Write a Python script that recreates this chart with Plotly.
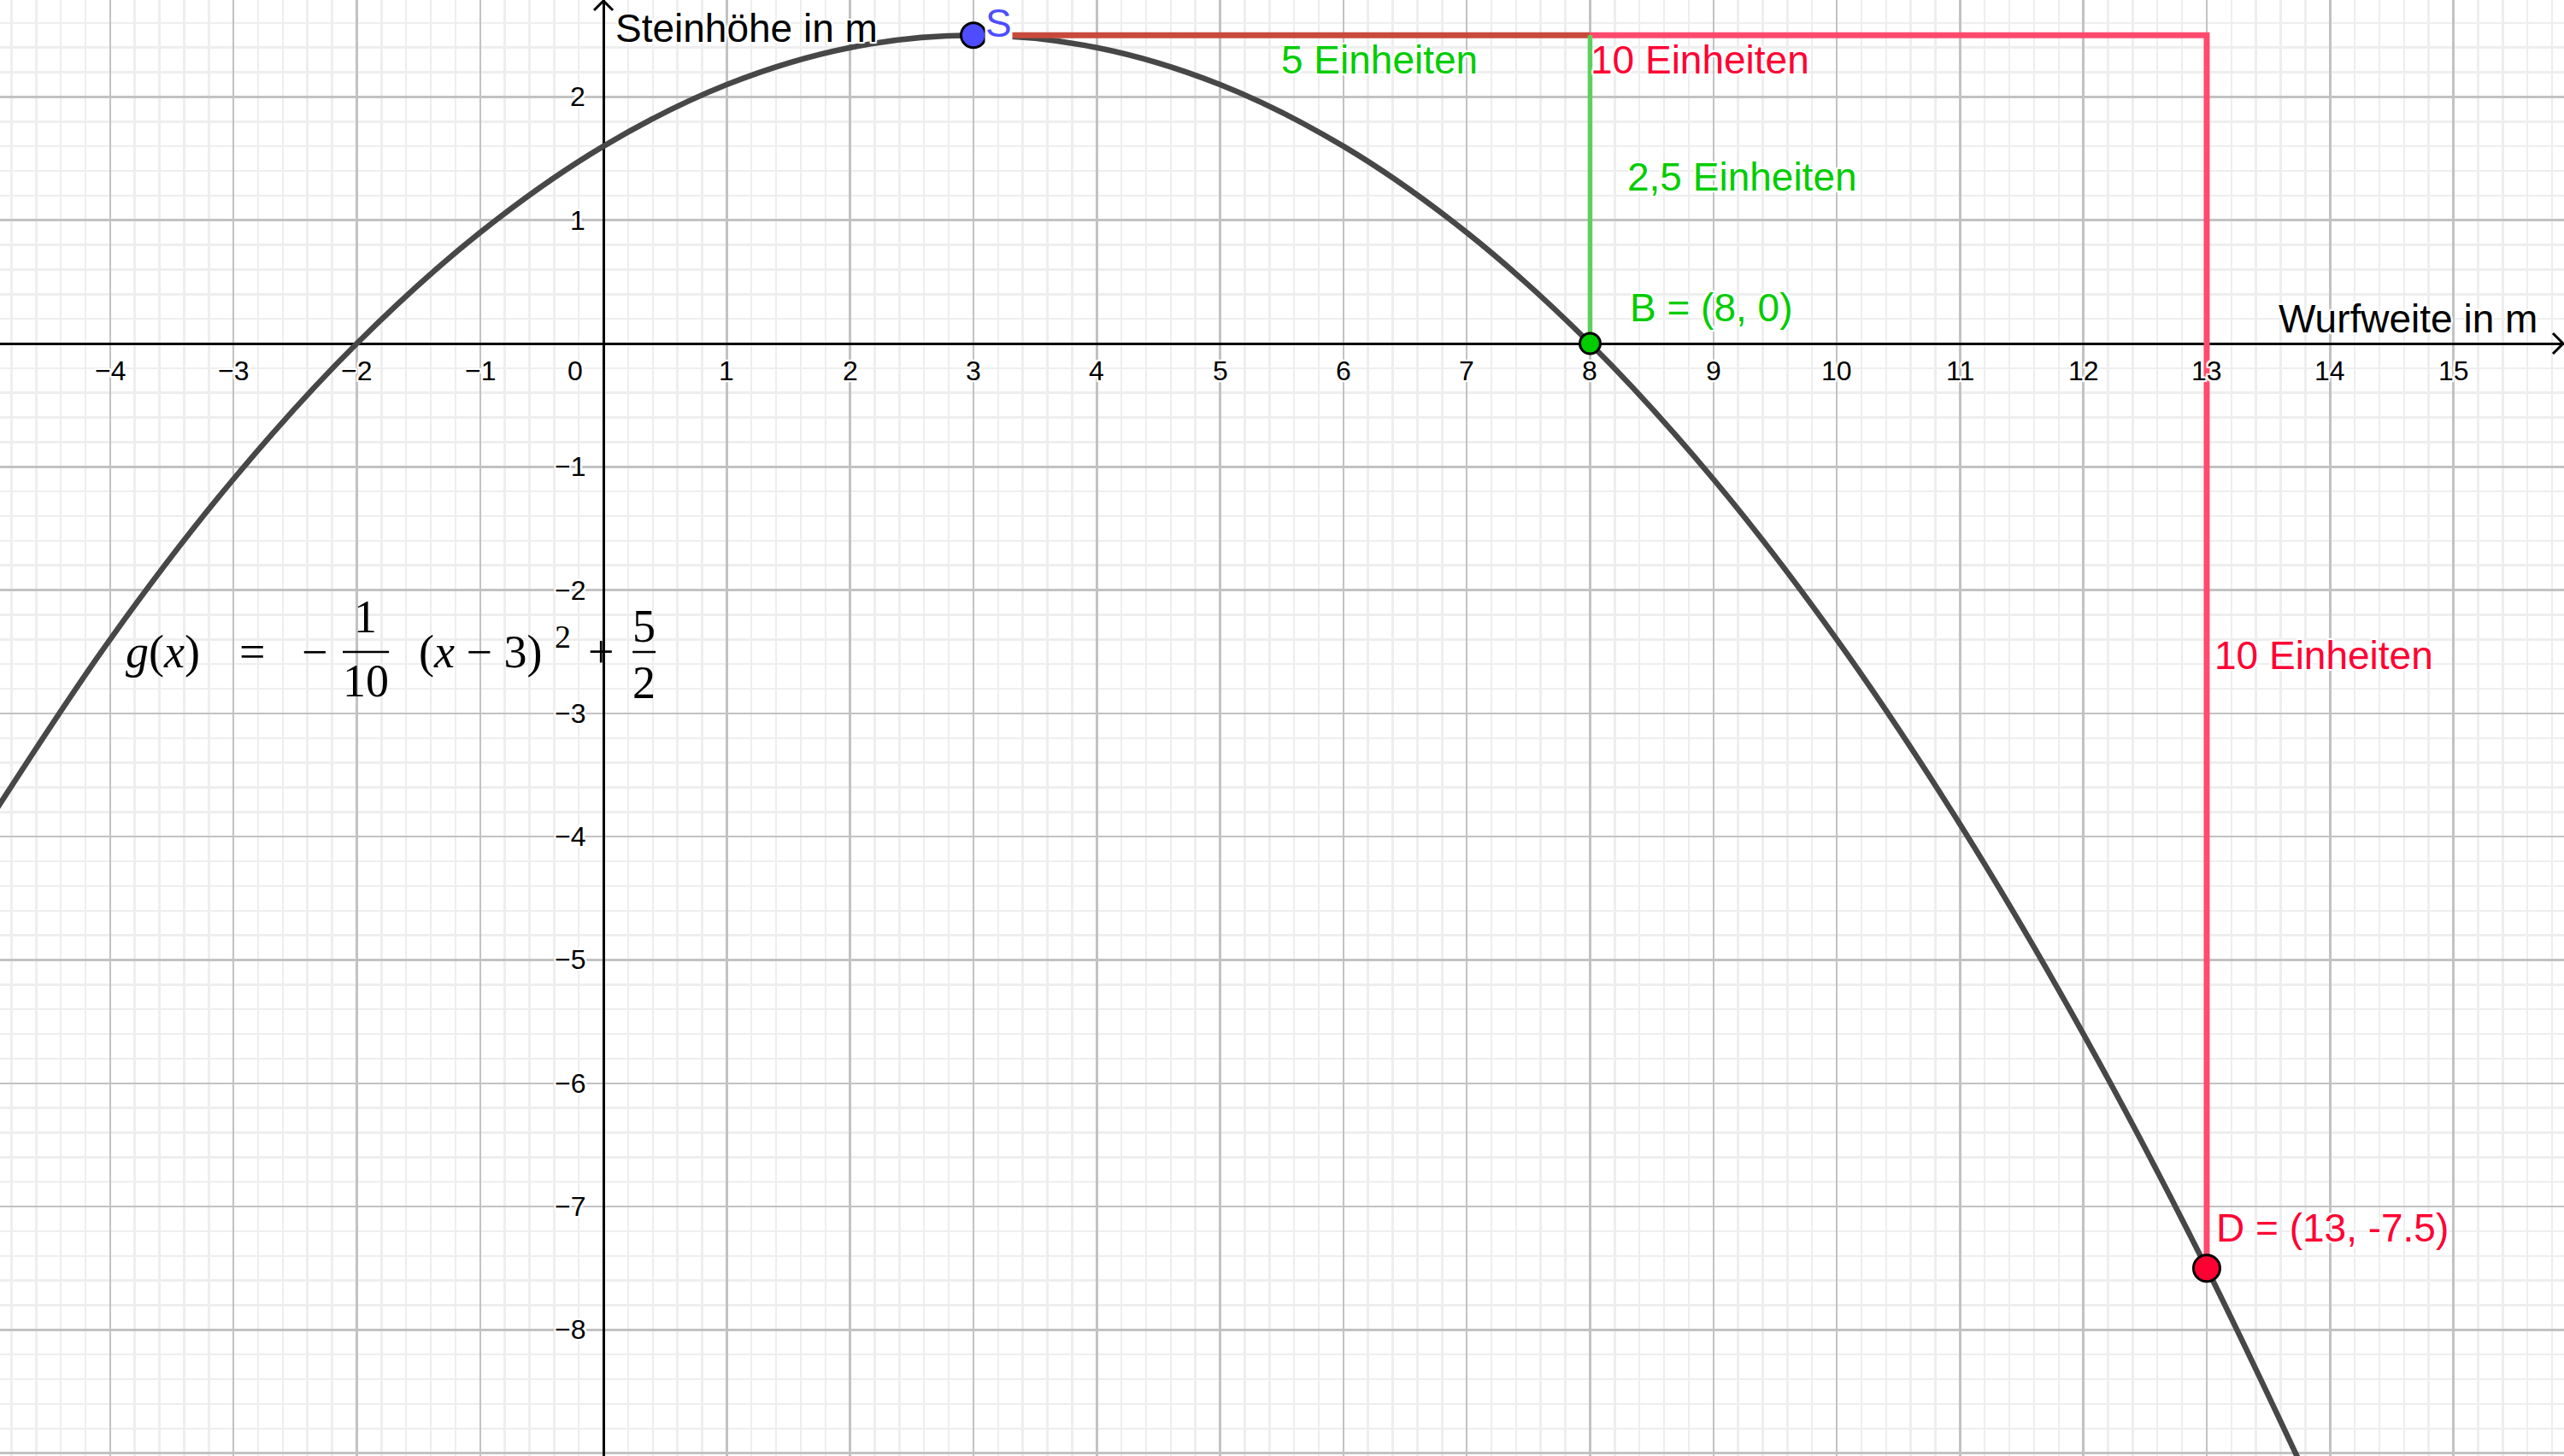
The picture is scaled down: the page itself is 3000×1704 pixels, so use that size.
import plotly.graph_objects as go

# ---------------- data ----------------
# parabola g(x) = -1/10 (x-3)^2 + 5/2, values read at integer x
curve_x = [-5, -4, -3, -2, -1, 0, 1, 2, 3, 4, 5, 6, 7, 8, 9, 10, 11, 12, 13, 14]
curve_y = [-3.9, -2.4, -1.1, 0.0, 0.9, 1.6, 2.1, 2.4, 2.5, 2.4, 2.1, 1.6, 0.9, 0.0,
           -1.1, -2.4, -3.9, -5.6, -7.5, -9.6]

point_names = ["S", "B", "D"]
point_x = [3, 8, 13]
point_y = [2.5, 0, -7.5]

corner_x = [8, 13]        # helper corners at apex height
corner_y = [2.5, 2.5]

x_ticks = [-4, -3, -2, -1, 1, 2, 3, 4, 5, 6, 7, 8, 9, 10, 11, 12, 13, 14, 15]
y_ticks = [2, 1, -1, -2, -3, -4, -5, -6, -7, -8]

x_range = [-4.893, 15.897]
y_range = [-9.023, 2.786]

# ---------------- styles ----------------
SANS = "Liberation Sans, Arial, sans-serif"
SERIF = "Liberation Serif, Times New Roman, serif"
HALO = ("white 2px 0px 1px, white -2px 0px 1px, white 0px 2px 1px, white 0px -2px 1px, "
        "white 2px 2px 1px, white -2px -2px 1px, white 2px -2px 1px, white -2px 2px 1px")
GREEN = "#00cc00"
GREEN_LINE = "#5ccf5c"
RED = "#ff0033"
RED_LINE = "#ff4a6e"
BROWN = "#c84a3c"
BLUE = "#4d4dff"
CURVE = "#474747"


def fmt(v):
    return ("\u2212" + str(-v)) if v < 0 else str(v)


fig = go.Figure()

# curve
fig.add_trace(go.Scatter(x=curve_x, y=curve_y, mode="lines",
                         line=dict(color=CURVE, width=6.5, shape="spline", smoothing=1.0),
                         hoverinfo="skip"))

S = (point_x[0], point_y[0])
B = (point_x[1], point_y[1])
D = (point_x[2], point_y[2])
C1 = (corner_x[0], corner_y[0])
C2 = (corner_x[1], corner_y[1])

# segment S -> (8, 2.5)  (green over red => brown)
fig.add_trace(go.Scatter(x=[S[0], C1[0]], y=[S[1], C1[1]], mode="lines",
                         line=dict(color=BROWN, width=7), hoverinfo="skip"))
# red horizontal (8,2.5)->(13,2.5) and vertical down to D
fig.add_trace(go.Scatter(x=[C1[0], C2[0], D[0]], y=[C1[1], C2[1], D[1]], mode="lines",
                         line=dict(color=RED_LINE, width=7), hoverinfo="skip"))
# green vertical (8,2.5)->B
fig.add_trace(go.Scatter(x=[C1[0], B[0]], y=[C1[1], B[1]], mode="lines",
                         line=dict(color=GREEN_LINE, width=5.5), hoverinfo="skip"))

# points
fig.add_trace(go.Scatter(x=point_x, y=point_y, mode="markers",
                         marker=dict(size=[29, 24, 31], color=[BLUE, GREEN, RED], opacity=1,
                                     line=dict(color="black", width=3)),
                         hoverinfo="skip"))

annotations = []

# tick labels
for v in x_ticks:
    annotations.append(dict(x=v, y=-0.22, xref="x", yref="y", text=fmt(v), showarrow=False,
                            xanchor="center", yanchor="middle",
                            font=dict(family=SANS, size=32, color="black", shadow=HALO)))
annotations.append(dict(x=-0.23, y=-0.22, xref="x", yref="y", text="0", showarrow=False,
                        xanchor="center", yanchor="middle",
                        font=dict(family=SANS, size=32, color="black", shadow=HALO)))
for v in y_ticks:
    annotations.append(dict(x=-0.13, y=v, xref="x", yref="y", text=fmt(v), showarrow=False,
                            xanchor="right", yanchor="middle",
                            font=dict(family=SANS, size=32, color="black", shadow=HALO)))

# text labels
labels = [
    ("Steinhöhe in m", 0.08, 2.56, "black"),
    ("Wurfweite in m", 13.57, 0.20, "black"),
    ("5 Einheiten", 5.48, 2.30, GREEN),
    ("10 Einheiten", 7.99, 2.30, RED),
    ("2,5 Einheiten", 8.29, 1.35, GREEN),
    ("B = (8, 0)", 8.31, 0.29, GREEN),
    ("10 Einheiten", 13.05, -2.53, RED),
    ("D = (13, -7.5)", 13.06, -7.17, RED),
]
for t, lx, ly, c in labels:
    annotations.append(dict(x=lx, y=ly, xref="x", yref="y", text=t, showarrow=False,
                            xanchor="left", yanchor="middle",
                            font=dict(family=SANS, size=46, color=c, shadow=HALO)))
# S label with white background (hides start of segment)
annotations.append(dict(x=3.09, y=2.60, xref="x", yref="y", text="S", showarrow=False,
                        xanchor="left", yanchor="middle", bgcolor="white", borderpad=0,
                        font=dict(family=SANS, size=46, color=BLUE)))

# formula pieces
F = 54
formula = [
    ("<i>g</i>(<i>x</i>)", -3.576, -2.50, F),
    ("=", -2.848, -2.50, F),
    ("\u2212", -2.342, -2.50, F),
    ("1", -1.927, -2.218, F),
    ("10", -1.927, -2.737, F),
    ("(<i>x</i> \u2212 3)", -0.998, -2.50, F),
    ("2", -0.330, -2.377, 38),
    ("+", -0.021, -2.50, F),
    ("5", 0.326, -2.294, F),
    ("2", 0.326, -2.751, F),
]
for t, fx, fy, fs in formula:
    annotations.append(dict(x=fx, y=fy, xref="x", yref="y", text=t, showarrow=False,
                            xanchor="center", yanchor="middle",
                            font=dict(family=SERIF, size=fs, color="black")))

shapes = [
    # fraction bars
    dict(type="line", xref="x", yref="y", x0=-2.114, x1=-1.739, y0=-2.502, y1=-2.502,
         line=dict(color="black", width=2.5)),
    dict(type="line", xref="x", yref="y", x0=0.236, x1=0.423, y0=-2.502, y1=-2.502,
         line=dict(color="black", width=2.5)),
    # axis arrowheads
    dict(type="path", xref="x", yref="paper", xsizemode="pixel", ysizemode="pixel",
         xanchor=0, yanchor=1, path="M -11,-12 L 0,-1 L 11,-12",
         line=dict(color="black", width=3)),
    dict(type="path", xref="paper", yref="y", xsizemode="pixel", ysizemode="pixel",
         xanchor=1, yanchor=0, path="M -13,12 L -1,0 L -13,-12",
         line=dict(color="black", width=3)),
]

axis_common = dict(showgrid=True, gridcolor="#c2c2c2", gridwidth=2.5, dtick=1, tick0=0,
                   zeroline=True, zerolinecolor="black", zerolinewidth=3,
                   showticklabels=False, ticks="", showline=False, fixedrange=True,
                   minor=dict(dtick=0.2, tick0=0, showgrid=True, gridcolor="#eeeeee", gridwidth=2.5))

fig.update_layout(
    width=3000, height=1704,
    margin=dict(l=0, r=0, t=0, b=0, pad=0),
    paper_bgcolor="white", plot_bgcolor="white",
    showlegend=False,
    xaxis=dict(range=x_range, **axis_common),
    yaxis=dict(range=y_range, **axis_common),
    annotations=annotations,
    shapes=shapes,
)

fig.write_html("out.html",
               config={"displayModeBar": False, "staticPlot": True},
               post_script="document.body.style.margin='0';document.body.style.padding='0';"
                           "document.body.style.overflow='hidden';")
